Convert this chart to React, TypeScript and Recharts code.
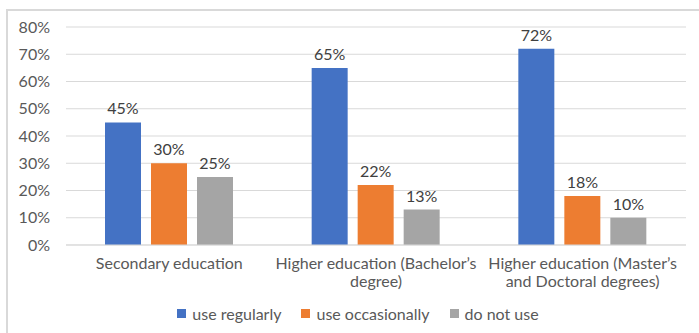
import React from 'react';
import { BarChart, Bar, XAxis, YAxis, CartesianGrid, Legend, LabelList } from 'recharts';

const categoryLines = [
  ['Secondary education'],
  ['Higher education (Bachelor’s', 'degree)'],
  ['Higher education (Master’s', 'and Doctoral degrees)'],
];
const categories = categoryLines.map((lines) => lines.join(' '));

const useRegularly = [45, 65, 72];
const useOccasionally = [30, 22, 18];
const doNotUse = [25, 13, 10];

const yTicks = [0, 10, 20, 30, 40, 50, 60, 70, 80];

const seriesList = [
  { key: 'regular', name: 'use regularly', color: '#4472C4' },
  { key: 'occasional', name: 'use occasionally', color: '#ED7D31' },
  { key: 'none', name: 'do not use', color: '#A5A5A5' },
];

const data = categories.map((name, i) => ({
  name,
  regular: useRegularly[i],
  occasional: useOccasionally[i],
  none: doNotUse[i],
}));

const FONT = 'Lato, "Open Sans", sans-serif';
const TEXT = '#595959';

const CategoryTick = (props: any) => {
  const { x, y, index } = props;
  const lines = categoryLines[index] || [];
  return (
    <text x={x} y={y + 16} textAnchor="middle" fill={TEXT} fontSize={16} fontFamily={FONT}>
      {lines.map((line, i) => (
        <tspan key={i} x={x} dy={i === 0 ? 0 : 18}>
          {line}
        </tspan>
      ))}
    </text>
  );
};

const LegendContent = () => (
  <div
    style={{
      position: 'relative',
      top: -3,
      display: 'flex',
      justifyContent: 'center',
      paddingLeft: 30,
      fontFamily: FONT,
      fontSize: 16,
      color: TEXT,
      height: 22,
      alignItems: 'center',
    }}
  >
    {seriesList.map((s) => (
      <div key={s.key} style={{ display: 'flex', alignItems: 'center', margin: '0 10px' }}>
        <span style={{ width: 9, height: 9, background: s.color, marginRight: 6, display: 'inline-block' }} />
        <span>{s.name}</span>
      </div>
    ))}
  </div>
);

export default function App() {
  return (
    <div
      style={{
        position: 'absolute',
        left: 0,
        top: 0,
        width: 699,
        height: 333,
        overflow: 'hidden',
        background: '#fff',
      }}
    >
      {/* outer frame, runs off the right and bottom edges */}
      <div
        style={{
          position: 'absolute',
          left: 6,
          top: 9,
          width: 720,
          height: 360,
          border: '2px solid #d9d9d9',
        }}
      />
      <div style={{ position: 'absolute', left: 0, top: 0 }}>
        <BarChart
          width={699}
          height={333}
          data={data}
          margin={{ top: 27, right: 13, left: 0, bottom: 6 }}
          barSize={36}
          barGap={10}
        >
          <CartesianGrid vertical={false} stroke="#d9d9d9" />
          <XAxis
            dataKey="name"
            axisLine={{ stroke: '#d9d9d9' }}
            tickLine={false}
            height={60}
            interval={0}
            tick={<CategoryTick />}
          />
          <YAxis
            width={66}
            domain={[0, 80]}
            ticks={yTicks}
            axisLine={false}
            tickLine={false}
            tickMargin={10}
            tickFormatter={(v: number) => `${v}%`}
            tick={{ fill: TEXT, fontSize: 16, fontFamily: FONT }}
          />
          <Legend verticalAlign="bottom" content={<LegendContent />} />
          {seriesList.map((s) => (
            <Bar key={s.key} dataKey={s.key} name={s.name} fill={s.color} isAnimationActive={false}>
              <LabelList
                dataKey={s.key}
                position="top"
                offset={8}
                formatter={(v: any) => `${v}%`}
                fill="#404040"
                fontSize={16}
                fontFamily={FONT}
              />
            </Bar>
          ))}
        </BarChart>
      </div>
    </div>
  );
}
